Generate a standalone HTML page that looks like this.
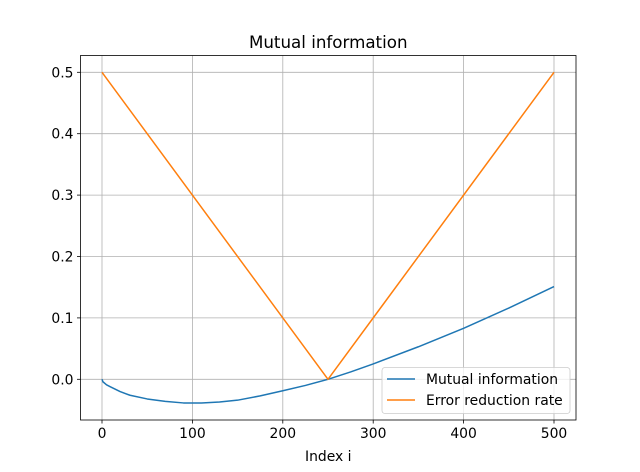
<!DOCTYPE html>
<html><head><meta charset="utf-8"><style>body{margin:0;background:#fff}svg{display:block;font-family:"DejaVu Sans","Liberation Sans",sans-serif}</style></head>
<body>
<svg id="chart" width="640" height="472"></svg>
<script>
const xTicks=[0,100,200,300,400,500];
const yTicks=[0.0,0.1,0.2,0.3,0.4,0.5];
const yTickLabels=["0.0","0.1","0.2","0.3","0.4","0.5"];
const miIdx=[0,1,5,9,20,31,50,70,90,110,130,150,175,200,225,250,275,300,350,400,450,500];
const miVals=[0,-0.004,-0.009,-0.012,-0.02,-0.026,-0.032,-0.036,-0.0385,-0.0385,-0.037,-0.034,-0.027,-0.0186,-0.01,0,0.012,0.025,0.053,0.083,0.116,0.151];
const errIdx=[0,250,500];
const errVals=[0.5,0,0.5];
const L=80.5,R=576,T=55.5,B=420;
const sx=v=>102+v*0.904;
const sy=v=>379.3-v*614;
const svg=document.getElementById('chart');
const NS='http://www.w3.org/2000/svg';
function mk(t,a,txt){const e=document.createElementNS(NS,t);for(const k in a)e.setAttribute(k,a[k]);if(txt!=null)e.textContent=txt;svg.appendChild(e);return e;}
xTicks.forEach(v=>{
const g=mk('line',{x1:sx(v),x2:sx(v),y1:T,y2:B,stroke:'#b0b0b0','stroke-width':0.8});


mk('line',{x1:sx(v),x2:sx(v),y1:B,y2:B+3.5,stroke:'#000','stroke-width':0.8});
const t=mk('text',{x:sx(v),y:B+18,'text-anchor':'middle','font-size':13.9},String(v));


});
yTicks.forEach((v,i)=>{
const g=mk('line',{x1:L,x2:R,y1:sy(v),y2:sy(v),stroke:'#b0b0b0','stroke-width':0.8});


mk('line',{x1:L-3.5,x2:L,y1:sy(v),y2:sy(v),stroke:'#000','stroke-width':0.8});
const t=mk('text',{x:L-7,y:sy(v)+5,'text-anchor':'end','font-size':13.9},yTickLabels[i]);


});
function line(xs,ys,c,name){const p=mk('polyline',{points:xs.map((x,i)=>sx(x)+','+sy(ys[i])).join(' '),fill:'none',stroke:c,'stroke-width':1.5,'stroke-linejoin':'round'});

}
line(miIdx,miVals,'#1f77b4','mutual-information-line');
line(errIdx,errVals,'#ff7f0e','error-reduction-line');
const fr=mk('rect',{x:L,y:T,width:R-L,height:B-T,fill:'none',stroke:'#000','stroke-width':0.8});


const ti=mk('text',{x:(L+R)/2,y:48,'text-anchor':'middle','font-size':16.7},'Mutual information');


const xl=mk('text',{x:(L+R)/2,y:461,'text-anchor':'middle','font-size':13.9},'Index i');


const lg=mk('rect',{x:382,y:367.5,width:188,height:46,rx:3,fill:'#fff','fill-opacity':0.8,stroke:'#ccc','stroke-width':0.8});


[['Mutual information','#1f77b4',379],['Error reduction rate','#ff7f0e',400]].forEach(([n,c,y])=>{
mk('line',{x1:387,x2:415,y1:y,y2:y,stroke:c,'stroke-width':1.5});
const t=mk('text',{x:426,y:y+5,'font-size':13.9},n);


});
</script>
</body></html>
